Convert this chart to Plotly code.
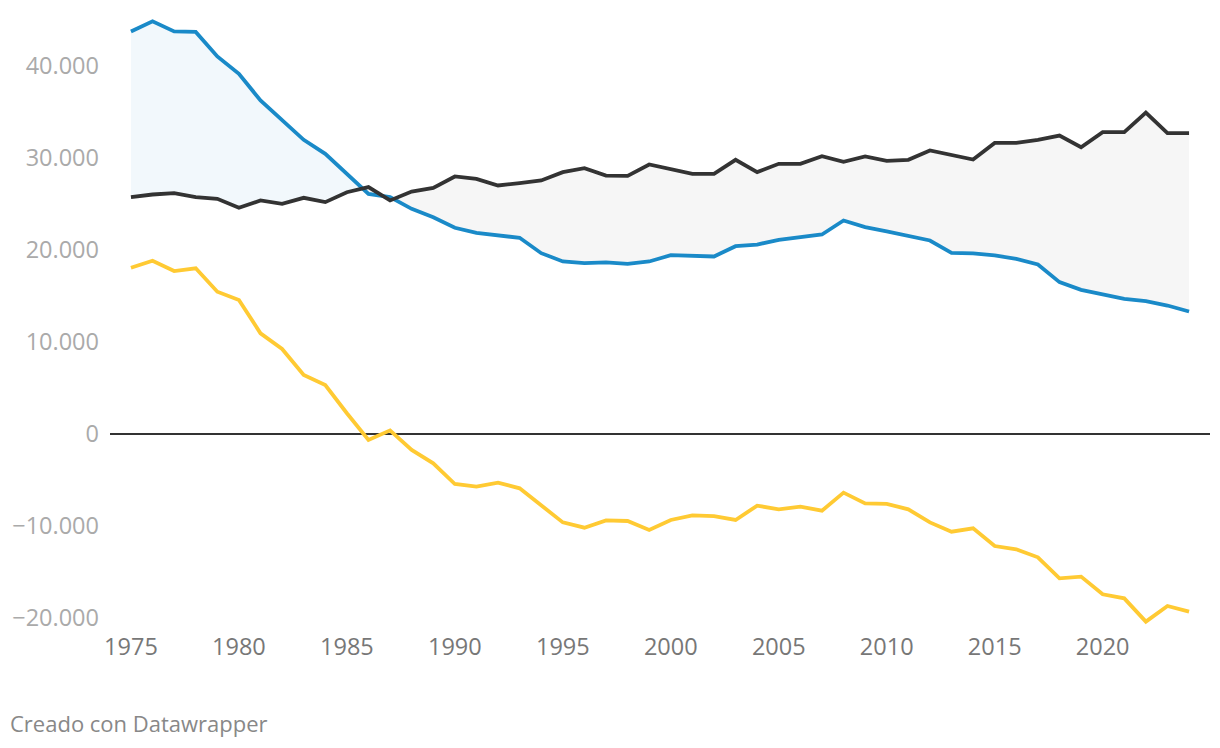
import plotly.graph_objects as go

years = list(range(1975, 2025))

nacimientos = [43700, 44800, 43700, 43650, 40980, 39100, 36200, 34100, 31920, 30400,
               28230, 26050, 25690, 24420, 23510, 22360, 21800, 21580, 21270, 19600,
               18700, 18510, 18590, 18440, 18700, 19380, 19310, 19240, 20360, 20540,
               21050, 21340, 21630, 23150, 22430, 21960, 21520, 20980, 19640, 19570,
               19350, 18990, 18370, 16450, 15620, 15110, 14640, 14380, 13910, 13260]

defunciones = [25690, 25980, 26120, 25690, 25510, 24530, 25330, 24960, 25620, 25150,
               26230, 26780, 25330, 26300, 26700, 27940, 27680, 26960, 27210, 27500,
               28410, 28840, 28040, 28010, 29240, 28770, 28230, 28230, 29750, 28410,
               29310, 29310, 30150, 29530, 30110, 29640, 29750, 30760, 30290, 29780,
               31590, 31600, 31910, 32390, 31120, 32750, 32760, 34890, 32650, 32650]

saldo = [18020, 18780, 17660, 17960, 15410, 14510, 10890, 9190, 6360, 5270,
         2200, -710, 340, -1790, -3240, -5490, -5780, -5340, -5960, -7770,
         -9660, -10240, -9440, -9510, -10490, -9400, -8900, -8970, -9400, -7840,
         -8240, -7950, -8390, -6430, -7590, -7660, -8240, -9660, -10670, -10310,
         -12230, -12590, -13460, -15740, -15560, -17480, -17920, -20450, -18750, -19370]

x_ticks = [1975, 1980, 1985, 1990, 1995, 2000, 2005, 2010, 2015, 2020]
y_ticks = [-20000, -10000, 0, 10000, 20000, 30000, 40000]

BLUE = "#1a8ac8"
BLACK = "#333333"
YELLOW = "#ffca33"

# dense arrays including crossing points for area fills
xs, bs, ks = [], [], []
n = len(years)
for i in range(n):
    xs.append(years[i]); bs.append(nacimientos[i]); ks.append(defunciones[i])
    if i < n - 1:
        d0 = nacimientos[i] - defunciones[i]
        d1 = nacimientos[i + 1] - defunciones[i + 1]
        if d0 * d1 < 0:
            t = d0 / (d0 - d1)
            xc = years[i] + t * (years[i + 1] - years[i])
            yc = nacimientos[i] + t * (nacimientos[i + 1] - nacimientos[i])
            xs.append(xc); bs.append(yc); ks.append(yc)
lo = [min(b, k) for b, k in zip(bs, ks)]

fig = go.Figure()
fig.add_trace(go.Scatter(x=xs, y=lo, mode="lines", line=dict(width=0), hoverinfo="skip", showlegend=False))
fig.add_trace(go.Scatter(x=xs, y=bs, mode="lines", line=dict(width=0), fill="tonexty",
                         fillcolor="#f2f8fc", hoverinfo="skip", showlegend=False))
fig.add_trace(go.Scatter(x=xs, y=lo, mode="lines", line=dict(width=0), hoverinfo="skip", showlegend=False))
fig.add_trace(go.Scatter(x=xs, y=ks, mode="lines", line=dict(width=0), fill="tonexty",
                         fillcolor="#f6f6f6", hoverinfo="skip", showlegend=False))

fig.add_trace(go.Scatter(x=years, y=nacimientos, mode="lines", line=dict(color=BLUE, width=3.8),
                         showlegend=False, name="Nacimientos"))
fig.add_trace(go.Scatter(x=years, y=defunciones, mode="lines", line=dict(color=BLACK, width=3.8),
                         showlegend=False, name="Defunciones"))
fig.add_trace(go.Scatter(x=years, y=saldo, mode="lines", line=dict(color=YELLOW, width=3.8),
                         showlegend=False, name="Saldo"))

fig.update_layout(
    width=1204, height=740,
    margin=dict(l=102, r=2, t=2, b=123),
    paper_bgcolor="white", plot_bgcolor="white",
    separators=",.",
    font=dict(family="Open Sans", size=23, color="#777777"),
    xaxis=dict(range=[1974.03, 2024.97], tickvals=x_ticks, showgrid=False, zeroline=False,
               showline=False, ticks="", tickfont=dict(size=23.5, color="#777777"),
               ticklabelstandoff=5),
    yaxis=dict(range=[-20815, 46033], tickvals=y_ticks, tickformat=",.0f", showgrid=False,
               zeroline=True, zerolinecolor=BLACK, zerolinewidth=1.6, showline=False, ticks="",
               tickfont=dict(size=23.5, color="#aaaaaa"), ticklabelstandoff=10),
    annotations=[dict(text="Creado con Datawrapper", xref="paper", yref="paper",
                      x=-0.0927, y=-0.159, xanchor="left",
                      yanchor="middle", showarrow=False,
                      font=dict(size=22, color="#888888"))],
)

fig.write_html("out.html")
